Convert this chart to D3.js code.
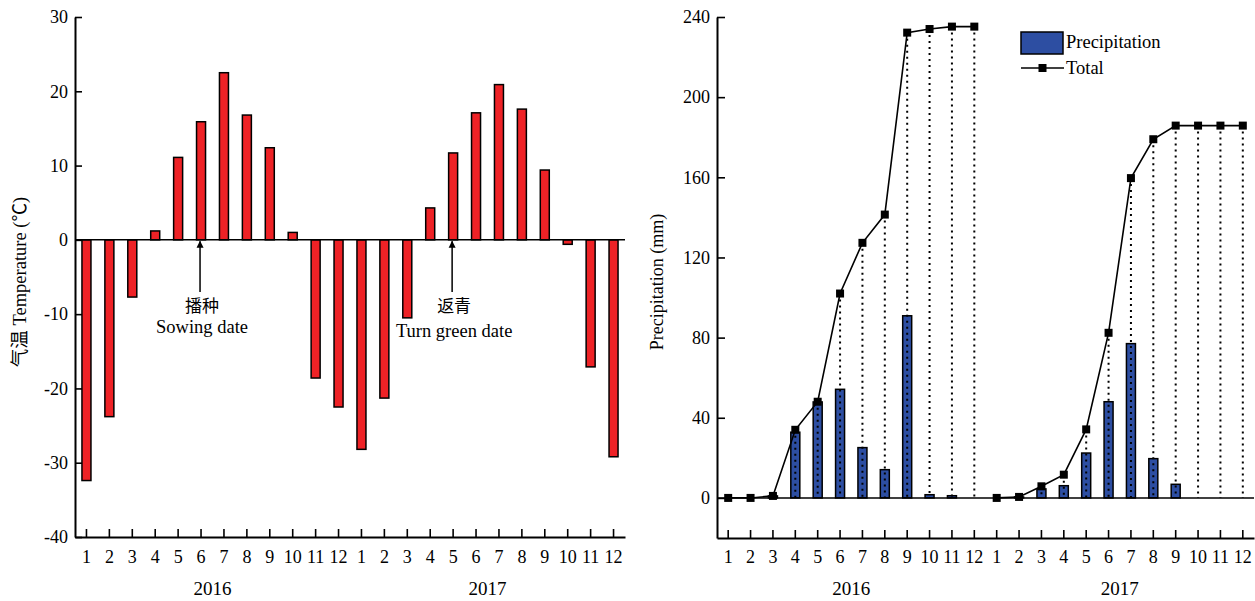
<!DOCTYPE html>
<html>
<head>
<meta charset="utf-8">
<script src="https://cdn.jsdelivr.net/npm/d3@7"></script>
<style>
  body { margin: 0; background: #fff; }
  svg text { font-family: "Liberation Serif", "Times New Roman", "Noto Sans CJK SC", serif; fill: #000; }
</style>
</head>
<body>
<svg id="chart" width="1255" height="601"></svg>
<script>
// months shown on both x axes (2016 then 2017)
var months = [1,2,3,4,5,6,7,8,9,10,11,12,1,2,3,4,5,6,7,8,9,10,11,12];
var years = ["2016", "2017"];

// mean monthly air temperature (°C)
var temp2016 = [-32.4, -23.8, -7.7, 1.2, 11.1, 15.9, 22.5, 16.8, 12.4, 1.0, -18.6, -22.5];
var temp2017 = [-28.2, -21.3, -10.5, 4.3, 11.7, 17.1, 20.9, 17.6, 9.4, -0.6, -17.1, -29.2];

// monthly precipitation (mm)
var prec2016 = [0, 0, 1, 32.8, 47.9, 54.2, 25.1, 14.1, 90.9, 1.6, 1.1, 0];
var prec2017 = [0, 0.5, 4.5, 6.1, 22.4, 48, 77, 19.6, 6.8, 0, 0, 0];

// cumulative precipitation (mm)
var total2016 = [0, 0, 1, 34, 48, 102, 127.3, 141.4, 232.2, 234, 235.2, 235.2];
var total2017 = [0, 0.5, 5.8, 11.6, 34.2, 82.4, 159.6, 179, 185.8, 185.8, 185.8, 185.8];

var tempTicks = [-40, -30, -20, -10, 0, 10, 20, 30];
var precTicks = [0, 40, 80, 120, 160, 200, 240];

var notes = [
  {idx: 5, cn: "播种", en: "Sowing date"},
  {idx: 16, cn: "返青", en: "Turn green date"}
];

var temps = temp2016.concat(temp2017);
var precs = prec2016.concat(prec2017);
var totals = total2016.concat(total2017);

var RED = "#ee2226", BLUE = "#2d4ea2";
var svg = d3.select("#chart");

svg.append("defs").append("marker")
  .attr("id", "arrow")
  .attr("viewBox", "0 0 10 10")
  .attr("refX", 9).attr("refY", 5)
  .attr("markerWidth", 7).attr("markerHeight", 9)
  .attr("markerUnits", "userSpaceOnUse")
  .attr("orient", "auto")
  .append("path").attr("d", "M0,0 L10,5 L0,10 z").attr("fill", "#000");

// ---------- left: temperature ----------
var xL = d3.scaleBand().domain(d3.range(24)).range([75, 625]);
var yL = d3.scaleLinear().domain([-40, 30]).range([537, 17]);
var gL = svg.append("g");

gL.selectAll("rect.t")
  .data(temps)
  .enter()
  .append("rect")
  .attr("class", "t")
  .attr("x", function(d, i){ return xL(i) + xL.bandwidth()/2 - 4.5 })
  .attr("width", 9)
  .attr("y", function(d){ return yL(Math.max(d, 0)) })
  .attr("height", function(d){ return Math.abs(yL(d) - yL(0)) })
  .attr("fill", RED)
  .attr("stroke", "#000")
  .attr("stroke-width", 1.5);

gL.append("line")
  .attr("x1", 75).attr("x2", 625)
  .attr("y1", yL(0)).attr("y2", yL(0))
  .attr("stroke", "#000").attr("stroke-width", 1.5);

var axYL = gL.append("g")
  .attr("transform", "translate(75,0)")
  .call(d3.axisLeft(yL).tickValues(tempTicks).tickFormat(function(d){ return String(d) })
    .tickSizeInner(-7).tickSizeOuter(0).tickPadding(7));
var axXL = gL.append("g")
  .attr("transform", "translate(0,537)")
  .call(d3.axisBottom(xL).tickFormat(function(i){ return months[i] }).tickSizeInner(-8).tickSizeOuter(0).tickPadding(13));

gL.append("text")
  .attr("transform", "translate(26,282) rotate(-90)")
  .attr("text-anchor", "middle")
  .style("font-size", "18.5px")
  .text("气温 Temperature (℃)");

years.forEach(function(y, k){
  gL.append("text")
    .attr("x", xL(k*12 + 6))
    .attr("y", 595)
    .attr("text-anchor", "middle")
    .style("font-size", "19px")
    .text(y);
});

notes.forEach(function(n){
  var cx = xL(n.idx) + xL.bandwidth()/2 - 1;
  gL.append("line")
    .attr("x1", cx).attr("x2", cx)
    .attr("y1", 292).attr("y2", yL(0) + 1.5)
    .attr("stroke", "#000").attr("stroke-width", 1.5)
    .attr("marker-end", "url(#arrow)");
  gL.append("text")
    .attr("x", cx + 2).attr("y", 312)
    .attr("text-anchor", "middle")
    .style("font-size", "17px")
    .text(n.cn);
  gL.append("text")
    .attr("x", cx + 2).attr("y", n.idx == 5 ? 333 : 337)
    .attr("text-anchor", "middle")
    .style("font-size", "18.5px")
    .text(n.en);
});

// ---------- right: precipitation ----------
var xR = d3.scaleBand().domain(d3.range(24)).range([717, 1254]);
var yR = d3.scaleLinear().domain([-20, 240]).range([538, 17]);
var gR = svg.append("g");
var cxR = function(i){ return xR(i) + xR.bandwidth()/2 };

gR.selectAll("rect.p")
  .data(precs)
  .enter()
  .append("rect")
  .attr("class", "p")
  .attr("x", function(d, i){ return cxR(i) - 4.5 })
  .attr("width", 9)
  .attr("y", function(d){ return yR(d) })
  .attr("height", function(d){ return yR(0) - yR(d) })
  .attr("fill", BLUE)
  .attr("stroke", "#000")
  .attr("stroke-width", 1.5);

gR.selectAll("line.drop")
  .data(totals)
  .enter()
  .append("line")
  .attr("class", "drop")
  .attr("x1", function(d, i){ return cxR(i) })
  .attr("x2", function(d, i){ return cxR(i) })
  .attr("y1", function(d){ return yR(d) })
  .attr("y2", yR(0))
  .attr("stroke", "#000")
  .attr("stroke-width", 2)
  .attr("stroke-dasharray", "2,4");

gR.append("line")
  .attr("x1", 717).attr("x2", 1254)
  .attr("y1", yR(0)).attr("y2", yR(0))
  .attr("stroke", "#000").attr("stroke-width", 1.5);

// one cumulative line per year
var line = d3.line()
  .x(function(d){ return cxR(d.i) })
  .y(function(d){ return yR(d.v) });

[total2016, total2017].forEach(function(tot, k){
  gR.append("path")
    .datum(tot.map(function(v, j){ return {i: k*12 + j, v: v} }))
    .attr("d", line)
    .attr("fill", "none")
    .attr("stroke", "#000")
    .attr("stroke-width", 1.6);
});

gR.selectAll("rect.m")
  .data(totals)
  .enter()
  .append("rect")
  .attr("class", "m")
  .attr("x", function(d, i){ return cxR(i) - 4 })
  .attr("y", function(d){ return yR(d) - 4 })
  .attr("width", 8).attr("height", 8)
  .attr("fill", "#000");

var axYR = gR.append("g")
  .attr("transform", "translate(717,0)")
  .call(d3.axisLeft(yR).tickValues(precTicks).tickFormat(function(d){ return String(d) })
    .tickSizeInner(-8).tickSizeOuter(0).tickPadding(7));
var axXR = gR.append("g")
  .attr("transform", "translate(0,538)")
  .call(d3.axisBottom(xR).tickFormat(function(i){ return months[i] }).tickSizeInner(-8).tickSizeOuter(0).tickPadding(12));

gR.append("text")
  .attr("transform", "translate(663,282) rotate(-90)")
  .attr("text-anchor", "middle")
  .style("font-size", "18px")
  .text("Precipitation (mm)");

years.forEach(function(y, k){
  gR.append("text")
    .attr("x", xR(k*12 + 6))
    .attr("y", 595)
    .attr("text-anchor", "middle")
    .style("font-size", "19px")
    .text(y);
});

// legend
var lg = gR.append("g");
lg.append("rect")
  .attr("x", 1021).attr("y", 32).attr("width", 42).attr("height", 22)
  .attr("fill", BLUE).attr("stroke", "#000").attr("stroke-width", 1.5);
lg.append("text").attr("x", 1066).attr("y", 48).style("font-size", "18.5px").text("Precipitation");
lg.append("line")
  .attr("x1", 1021).attr("x2", 1064).attr("y1", 68).attr("y2", 68)
  .attr("stroke", "#000").attr("stroke-width", 1.5);
lg.append("rect").attr("x", 1038.5).attr("y", 64).attr("width", 8).attr("height", 8).attr("fill", "#000");
lg.append("text").attr("x", 1066).attr("y", 74).style("font-size", "18.5px").text("Total");

// axis styling
[axYL, axXL, axYR, axXR].forEach(function(a){
  a.select(".domain").attr("stroke-width", 2);
  a.selectAll(".tick line").attr("stroke-width", 1.6);
  a.selectAll("text").style("font-size", "18px");
});
</script>
</body>
</html>
